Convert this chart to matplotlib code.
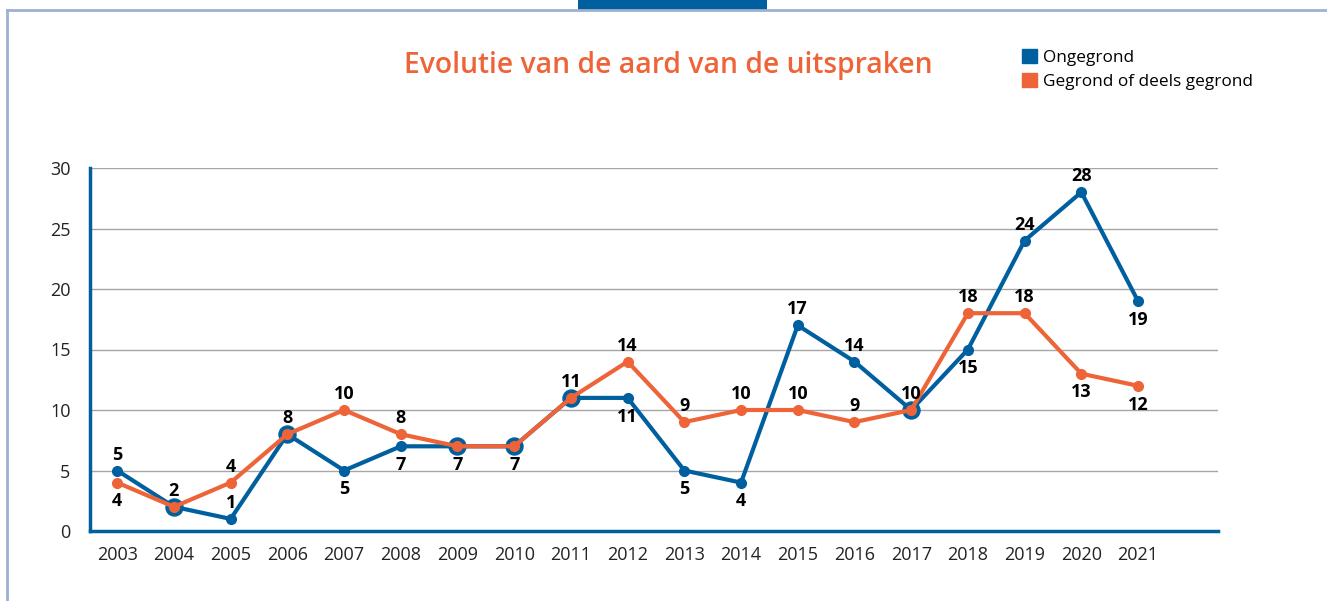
import matplotlib
matplotlib.use("Agg")
from matplotlib import pyplot as plt
from matplotlib.patches import Rectangle
from matplotlib.lines import Line2D

# data
years = [str(y) for y in range(2003, 2022)]
ongegrond = [5, 2, 1, 8, 5, 7, 7, 7, 11, 11, 5, 4, 17, 14, 10, 15, 24, 28, 19]
gegrond = [4, 2, 4, 8, 10, 8, 7, 7, 11, 14, 9, 10, 10, 9, 10, 18, 18, 13, 12]

# label side: 1 above, -1 below, 0 none
blue_side = [1, 1, 1, 1, -1, -1, -1, -1, 1, -1, -1, -1, 1, 1, 1, -1, 1, 1, -1]
orange_side = [-1, 0, 1, 0, 1, 1, 0, 0, 0, 1, 1, 1, 1, 1, 0, 1, 1, -1, -1]

BLUE = "#00609f"
ORANGE = "#ee6438"
plt.rcParams['font.family'] = ['Open Sans', 'DejaVu Sans']

fig = plt.figure(figsize=(13.27, 6.01), dpi=100)
W, H = 1327, 601

# frame and tab
fig.add_artist(Line2D([7 / W, 7 / W], [0, 1 - 10 / H], color="#9fb0d0", lw=2))
fig.add_artist(Line2D([7 / W, 1], [1 - 10 / H, 1 - 10 / H], color="#9fb0d0", lw=2))
fig.add_artist(Rectangle((578 / W, 1 - 10 / H), 189 / W, 10 / H, color=BLUE, lw=0))

ax = fig.add_axes([90 / W, 1 - 531 / H, (1218 - 90) / W, (531 - 168) / H])
x = list(range(len(years)))

ax.plot(x, ongegrond, color=BLUE, lw=3, marker="o", ms=7, zorder=3)
same = [i for i in x if ongegrond[i] == gegrond[i]]
ax.scatter(same, [ongegrond[i] for i in same], s=150, color=BLUE, zorder=3.5)
ax.plot(x, gegrond, color=ORANGE, lw=3, marker="o", ms=7, zorder=4)


def put_label(i, val, side):
    ax.annotate(str(val), (i, val), xytext=(0, 5 if side > 0 else -7),
                textcoords="offset points", ha="center",
                va="bottom" if side > 0 else "top",
                fontsize=13, fontweight="bold", color="black", zorder=6)


for i in x:
    if blue_side[i]:
        put_label(i, ongegrond[i], blue_side[i])
    if orange_side[i]:
        put_label(i, gegrond[i], orange_side[i])

ax.set_xlim(-0.48, len(years) - 1 + 1.41)
ax.set_ylim(0, 30)
ax.set_yticks(range(0, 31, 5))
ax.set_xticks(x)
ax.set_xticklabels(years)
ax.tick_params(length=0, labelsize=13, colors="#222222")
ax.tick_params(axis="y", pad=14)
ax.tick_params(axis="x", pad=11)
ax.grid(axis="y", color="#a6a6a6", lw=1)
ax.set_axisbelow(True)
for s in ["top", "right"]:
    ax.spines[s].set_visible(False)
for s in ["left", "bottom"]:
    ax.spines[s].set_color(BLUE)
    ax.spines[s].set_linewidth(2.5)

fig.text(668 / W, 1 - 66 / H, "Evolutie van de aard van de uitspraken", ha="center", va="center",
         fontsize=20.3, fontweight="semibold", color=ORANGE)

handles = [Rectangle((0, 0), 1, 1, color=BLUE), Rectangle((0, 0), 1, 1, color=ORANGE)]
fig.legend(handles, ["Ongegrond", "Gegrond of deels gegrond"], loc="upper left",
           bbox_to_anchor=(1022 / W, 1 - 49 / H), frameon=False, fontsize=12.4,
           handlelength=0.85, handleheight=0.85, handletextpad=0.35, labelspacing=0.42,
           borderpad=0, borderaxespad=0)

fig.savefig("out.png", dpi=100)
